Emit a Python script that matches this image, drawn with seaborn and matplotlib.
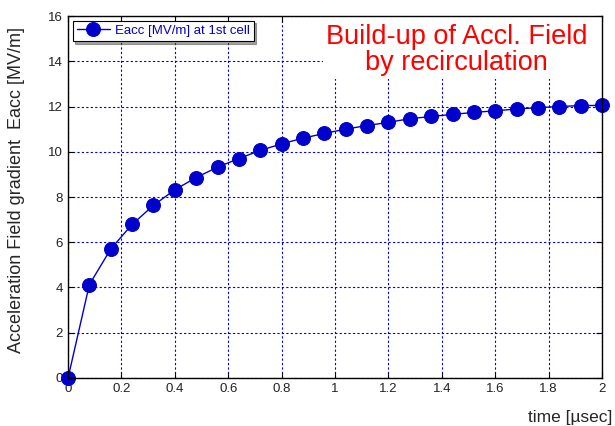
import seaborn as sns
import matplotlib.pyplot as plt
import pandas as pd
from matplotlib.patches import Rectangle

# time in microseconds, field at the first cell
time_us = [0.00, 0.08, 0.16, 0.24, 0.32, 0.40, 0.48, 0.56, 0.64, 0.72,
           0.80, 0.88, 0.96, 1.04, 1.12, 1.20, 1.28, 1.36, 1.44, 1.52,
           1.60, 1.68, 1.76, 1.84, 1.92, 2.00]
eacc = [0.00, 4.13, 5.70, 6.79, 7.63, 8.32, 8.86, 9.32, 9.70, 10.06,
        10.35, 10.60, 10.81, 11.00, 11.16, 11.30, 11.46, 11.56, 11.65, 11.74,
        11.81, 11.89, 11.95, 12.00, 12.04, 12.05]
xticks = [0, 0.2, 0.4, 0.6, 0.8, 1, 1.2, 1.4, 1.6, 1.8, 2]
xticklabels = ["0", "0.2", "0.4", "0.6", "0.8", "1", "1.2", "1.4", "1.6", "1.8", "2"]
yticks = [0, 2, 4, 6, 8, 10, 12, 14, 16]

df = pd.DataFrame({"time": time_us, "eacc": eacc})

sns.set_style("white")
plt.rcParams["font.family"] = ["Liberation Sans", "DejaVu Sans"]

fig = plt.figure(figsize=(6.15, 4.26), dpi=100)
ax = fig.add_axes([0.1106, 0.1127, 0.8683, 0.8497])

ax.grid(True, color="#0000dd", linestyle=(0, (2, 2)), linewidth=0.8)
ax.set_axisbelow(True)

sns.lineplot(data=df, x="time", y="eacc", ax=ax, color="#0000cc",
             marker="o", markersize=10, markeredgecolor="#0000cc",
             linewidth=1.0, label="Eacc [MV/m] at 1st cell", clip_on=False,
             zorder=3)

ax.set_xlim(0, 2)
ax.set_ylim(0, 16)
ax.set_xticks(xticks)
ax.set_xticklabels(xticklabels)
ax.set_yticks(yticks)
ax.tick_params(direction="in", length=4, labelsize=9.5, top=True, right=True,
               bottom=True, left=True, colors="black", labelcolor="#222222")
for sp in ax.spines.values():
    sp.set_color("black")
    sp.set_linewidth(1.0)
    sp.set_zorder(4)

ax.set_ylabel("Acceleration Field gradient  Eacc [MV/m]", fontsize=13)
ax.yaxis.set_label_coords(-0.08, 0.52)
ax.set_xlabel("time [\u00b5sec]", fontsize=12.5)
ax.xaxis.set_label_coords(1.02, -0.088)
ax.xaxis.label.set_horizontalalignment("right")

# white patch behind the annotation hides the grid there
ax.add_patch(Rectangle((0.955, 13.2), 1.045, 2.8, facecolor="white",
                       edgecolor="none", zorder=1))
ax.text(1.455, 14.5, "Build-up of Accl. Field\nby recirculation",
        color="red", fontsize=19.5, ha="center", va="center", linespacing=1.0,
        zorder=2)

leg = ax.legend(loc="upper left", fontsize=9.5, frameon=True, fancybox=False,
                shadow=True, borderaxespad=0.35, handlelength=2.5,
                borderpad=0.3, handletextpad=0.4)
leg.get_frame().set_edgecolor("black")
leg.get_frame().set_linewidth(0.8)
for t in leg.get_texts():
    t.set_color("#0000cc")

fig.savefig("out.png", dpi=100)
